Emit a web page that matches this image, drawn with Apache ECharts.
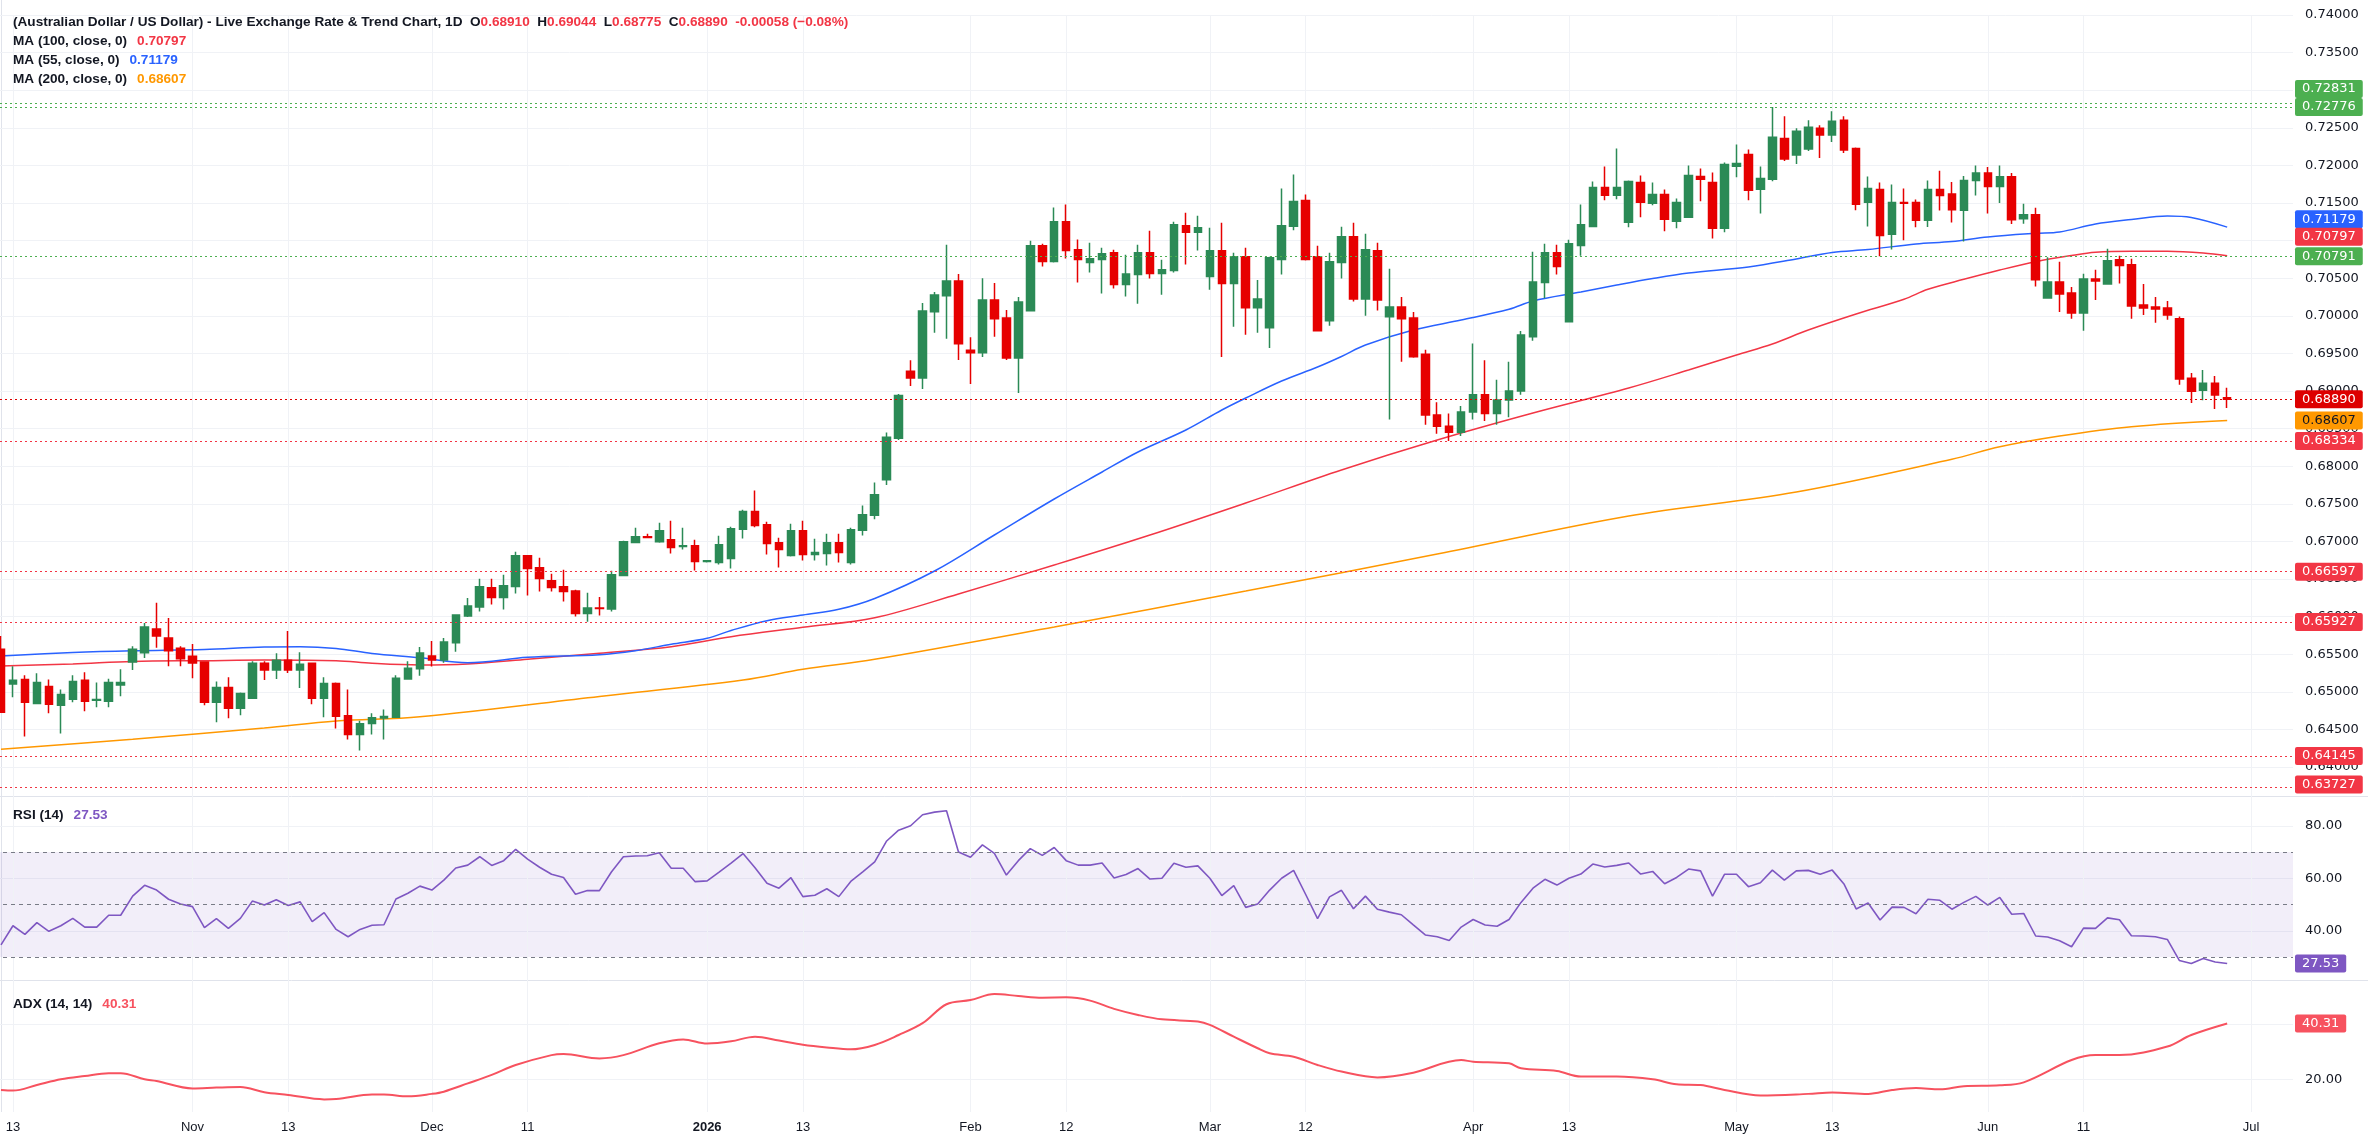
<!DOCTYPE html>
<html>
<head>
<meta charset="utf-8">
<title>AUD/USD</title>
<script src="https://cdn.jsdelivr.net/npm/echarts@6/dist/echarts.min.js"></script>
<style>
  html, body { margin: 0; padding: 0; background: #ffffff; overflow: hidden; }
  /* the plot starts half a candle left of the window edge, so the canvas is shifted 5px left */
  #chart { width: 2373px; height: 1137px; margin-left: -5px; }
</style>
</head>
<body>
<div id="chart"></div>
<script>
// ---- data ----
// weekday categories, Oct 10 2025 .. Jul 6 2026 (last candle is Jun 29)
var dates = [];
(function () {
  var t = Date.UTC(2025, 9, 10);
  while (dates.length < 192) {
    var d = new Date(t);
    if (d.getUTCDay() !== 0 && d.getUTCDay() !== 6) dates.push(d.toISOString().slice(0, 10));
    t += 86400000;
  }
})();

var tickDates = ['2025-10-13', '2025-11-03', '2025-11-13', '2025-12-01', '2025-12-11', '2026-01-01',
  '2026-01-13', '2026-02-02', '2026-02-12', '2026-03-02', '2026-03-12', '2026-04-01', '2026-04-13',
  '2026-05-01', '2026-05-13', '2026-06-01', '2026-06-11', '2026-07-01'];
var tickTexts = ['13', 'Nov', '13', 'Dec', '11', '2026', '13', 'Feb', '12', 'Mar', '12', 'Apr', '13',
  'May', '13', 'Jun', '11', 'Jul'];

var opens = [
  0.65567, 0.65103, 0.65165, 0.64844, 0.65071, 0.64821, 0.64902, 0.65152, 0.64888, 0.64875, 0.65089, 0.65397,
  0.65518, 0.65835, 0.65714, 0.6558, 0.65473, 0.65397, 0.64862, 0.65058, 0.64781, 0.64915, 0.65379, 0.6529,
  0.6542, 0.6529, 0.65379, 0.64915, 0.65112, 0.64683, 0.64433, 0.6458, 0.64652, 0.64661, 0.6517,
  0.65307, 0.65476, 0.65422, 0.65653, 0.66009, 0.66129, 0.66382, 0.66253, 0.664, 0.66809, 0.66649, 0.66476,
  0.66396, 0.66342, 0.6604, 0.66116, 0.66102, 0.66547, 0.66987, 0.67062, 0.66996, 0.67022, 0.66933, 0.66942,
  0.66733, 0.6672, 0.66773, 0.6716, 0.67396, 0.67222, 0.66982, 0.66813, 0.67142, 0.66827, 0.6684, 0.66982,
  0.6672, 0.67147, 0.67347,
  0.6782, 0.68371, 0.69262, 0.69173, 0.70054, 0.70268, 0.70464, 0.69542, 0.69507, 0.7021, 0.6997, 0.6944,
  0.70068, 0.70931, 0.70722, 0.71252, 0.70878, 0.70709, 0.70749, 0.70838, 0.70415, 0.70549, 0.70838, 0.70562,
  0.70602, 0.71199, 0.7111, 0.70522, 0.70865, 0.70428, 0.70784, 0.70108, 0.69841, 0.70749, 0.7119, 0.71532,
  0.70784, 0.69934, 0.70709,
  0.71052, 0.70224, 0.70865, 0.69988, 0.70117, 0.6997, 0.6949, 0.6868, 0.6853, 0.6845, 0.6872, 0.6895,
  0.687, 0.6888, 0.69, 0.69722, 0.70442, 0.70838, 0.69922, 0.70936, 0.71189, 0.71705, 0.71603, 0.71243,
  0.71772, 0.71496, 0.71612, 0.71256, 0.7131, 0.71852, 0.71772, 0.71163, 0.7199, 0.72146, 0.71683, 0.71817,
  0.72359, 0.72137, 0.72217, 0.72493, 0.72404, 0.726, 0.72226, 0.7151, 0.71679, 0.71083, 0.71505, 0.71505,
  0.7127, 0.7168, 0.7162, 0.71402, 0.718, 0.719, 0.7172, 0.7185, 0.71291, 0.71344, 0.70238, 0.70451,
  0.70304, 0.70038, 0.70491, 0.70424, 0.70744, 0.70678, 0.70144, 0.70118, 0.70104, 0.69962, 0.69171, 0.69011,
  0.69104, 0.6891
];
var highs = [
  0.65741, 0.65339, 0.65219, 0.65246, 0.65165, 0.65031, 0.65219, 0.65259, 0.65125, 0.65174, 0.65299, 0.65607,
  0.65915, 0.66183, 0.65982, 0.65607, 0.65634, 0.65406, 0.65138, 0.65192, 0.64991, 0.65406, 0.65406, 0.65513,
  0.65808, 0.65527, 0.65385, 0.65192, 0.65125, 0.65031, 0.64616, 0.64714, 0.64763, 0.65219, 0.65406,
  0.65596, 0.65676, 0.65716, 0.6603, 0.66249, 0.66502, 0.66502, 0.66556, 0.66862, 0.66815, 0.66782, 0.66569,
  0.66622, 0.66356, 0.66316, 0.66262, 0.66609, 0.67009, 0.67182, 0.67102, 0.67249, 0.67276, 0.67182, 0.67022,
  0.66751, 0.67076, 0.67196, 0.67422, 0.67676, 0.67262, 0.67049, 0.67236, 0.67276, 0.67036, 0.67102, 0.67102,
  0.67182, 0.67476, 0.67782,
  0.68447, 0.68959, 0.69409, 0.7017, 0.70317, 0.70945, 0.70557, 0.69716, 0.705, 0.70437, 0.70077, 0.7025,
  0.70998, 0.70958, 0.71439, 0.71479, 0.71015, 0.70972, 0.70905, 0.70878, 0.70811, 0.70945, 0.71132, 0.70744,
  0.71252, 0.71372, 0.71332, 0.71172, 0.71239, 0.70838, 0.70905, 0.70477, 0.70784, 0.71693, 0.7188, 0.71613,
  0.70931, 0.70838, 0.71185,
  0.71238, 0.71092, 0.70972, 0.70625, 0.70251, 0.70051, 0.6955, 0.6885, 0.687, 0.688, 0.69633, 0.6941,
  0.6915, 0.69388, 0.69797, 0.70851, 0.70958, 0.70945, 0.71012, 0.71479, 0.71786, 0.71986, 0.72226, 0.71799,
  0.71866, 0.71772, 0.71679, 0.71559, 0.71999, 0.71959, 0.71906, 0.72039, 0.72279, 0.72213, 0.71986, 0.72776,
  0.72653, 0.72493, 0.726, 0.72533, 0.7272, 0.72653, 0.72239, 0.71852, 0.71772, 0.71746, 0.71692, 0.71545,
  0.718, 0.7193, 0.7178, 0.7186, 0.72, 0.7198, 0.72, 0.719, 0.71491, 0.71438, 0.7078, 0.70718,
  0.70384, 0.70558, 0.70611, 0.70891, 0.70798, 0.70758, 0.70424, 0.70251, 0.70198, 0.69991, 0.69238, 0.69278,
  0.69198, 0.69044
];
var lows = [
  0.6472, 0.64929, 0.64406, 0.64835, 0.64714, 0.64446, 0.64862, 0.64741, 0.64795, 0.64795, 0.64942, 0.6529,
  0.65451, 0.65585, 0.65339, 0.65339, 0.65179, 0.64821, 0.64594, 0.64647, 0.64687, 0.64915, 0.65156, 0.6517,
  0.6525, 0.65049, 0.64835, 0.64661, 0.64513, 0.64366, 0.64219, 0.64433, 0.64366, 0.64655, 0.65165,
  0.65213, 0.65338, 0.65387, 0.65533, 0.65996, 0.66067, 0.6616, 0.66093, 0.66307, 0.6628, 0.66333, 0.66333,
  0.662, 0.66, 0.65933, 0.66013, 0.66067, 0.6654, 0.6698, 0.67049, 0.66982, 0.6684, 0.66893, 0.66613,
  0.6672, 0.66693, 0.6664, 0.6704, 0.67187, 0.66827, 0.66653, 0.668, 0.66747, 0.66747, 0.6668, 0.6672,
  0.66693, 0.6708, 0.67293,
  0.6775, 0.68349, 0.69066, 0.69026, 0.69774, 0.69694, 0.69413, 0.69093, 0.69453, 0.6972, 0.69413, 0.68972,
  0.7006, 0.70655, 0.70709, 0.70762, 0.70442, 0.70575, 0.70295, 0.70362, 0.70255, 0.70161, 0.70495, 0.70281,
  0.70575, 0.70682, 0.70869, 0.70348, 0.69453, 0.69854, 0.69747, 0.69774, 0.69573, 0.70548, 0.71136, 0.70735,
  0.6979, 0.69867, 0.70495,
  0.70189, 0.70002, 0.70069, 0.6862, 0.69388, 0.69441, 0.6855, 0.6843, 0.68334, 0.684, 0.6862, 0.686,
  0.6855, 0.6865, 0.6895, 0.69668, 0.70233, 0.70549, 0.69915, 0.70798, 0.7118, 0.71536, 0.7155, 0.71176,
  0.7131, 0.7147, 0.71123, 0.71163, 0.71305, 0.71523, 0.71029, 0.7111, 0.71843, 0.71536, 0.7136, 0.7179,
  0.72057, 0.72017, 0.7219, 0.72097, 0.72311, 0.72164, 0.71403, 0.71189, 0.70791, 0.70883, 0.71003, 0.71176,
  0.7118, 0.714, 0.71242, 0.70989, 0.716, 0.71362, 0.715, 0.7122, 0.71224, 0.70389, 0.7023, 0.70051,
  0.69962, 0.69802, 0.70211, 0.70418, 0.70429, 0.69962, 0.70011, 0.69909, 0.69949, 0.69082, 0.68842, 0.68878,
  0.68762, 0.68775
];
var closes = [
  0.64728, 0.65152, 0.64862, 0.65125, 0.64835, 0.64964, 0.65138, 0.64875, 0.64897, 0.65125, 0.65125, 0.65567,
  0.65862, 0.65741, 0.65545, 0.65438, 0.65384, 0.64862, 0.65058, 0.64781, 0.64978, 0.65379, 0.6529, 0.6542,
  0.6529, 0.65366, 0.64915, 0.65112, 0.64674, 0.64433, 0.64576, 0.64656, 0.6467, 0.65179, 0.65312,
  0.65516, 0.65422, 0.65662, 0.66022, 0.66142, 0.66396, 0.66253, 0.66409, 0.66809, 0.6664, 0.66507, 0.66387,
  0.66333, 0.6604, 0.66116, 0.66107, 0.66556, 0.66996, 0.67062, 0.67053, 0.67142, 0.6692, 0.66942, 0.66733,
  0.66742, 0.66956, 0.67169, 0.67396, 0.67213, 0.66973, 0.66893, 0.67142, 0.66827, 0.66853, 0.66982, 0.66853,
  0.67156, 0.67356, 0.67622,
  0.68385, 0.68941, 0.69173, 0.70063, 0.70277, 0.70464, 0.69627, 0.69507, 0.7021, 0.69961, 0.6944, 0.70183,
  0.70931, 0.70722, 0.71252, 0.70869, 0.70749, 0.70758, 0.70825, 0.70415, 0.70557, 0.70838, 0.70562, 0.70611,
  0.71212, 0.7111, 0.71172, 0.70865, 0.70428, 0.70784, 0.70108, 0.70224, 0.70771, 0.71199, 0.71519, 0.70749,
  0.698, 0.70718, 0.71052,
  0.70224, 0.70878, 0.70211, 0.70117, 0.69962, 0.69455, 0.6868, 0.6853, 0.6845, 0.6872, 0.6895, 0.687,
  0.6888, 0.69, 0.69744, 0.70451, 0.70838, 0.70656, 0.70958, 0.71212, 0.71705, 0.71603, 0.71705, 0.71786,
  0.7151, 0.71612, 0.71283, 0.71505, 0.71866, 0.71817, 0.71163, 0.72012, 0.72026, 0.7167, 0.71826, 0.72373,
  0.72084, 0.72453, 0.72506, 0.72404, 0.72586, 0.72204, 0.71483, 0.71692, 0.71069, 0.71505, 0.71496, 0.7127,
  0.7168, 0.716, 0.71411, 0.718, 0.719, 0.7172, 0.7185, 0.71278, 0.71344, 0.70478, 0.70451, 0.70291,
  0.70038, 0.70491, 0.70464, 0.70731, 0.70669, 0.70131, 0.70104, 0.70091, 0.70011, 0.69158, 0.68998, 0.69104,
  0.68948, 0.6889
];

// moving averages, read as [candle index, value]
var ma55Pts = [[0, 0.65476], [6, 0.65523], [11, 0.65547], [17, 0.65563], [22, 0.65596], [25, 0.656], [28, 0.65576],
  [31, 0.6551], [35, 0.65453], [39, 0.65387], [44, 0.65458], [50, 0.65493], [53, 0.65547], [56, 0.65632],
  [59, 0.65711], [61, 0.65815], [64, 0.65946], [67, 0.66021], [70, 0.66097], [73, 0.66241], [78, 0.66606],
  [83, 0.67085], [88, 0.67564], [92, 0.67923], [95, 0.68189], [99, 0.68481], [102, 0.68747], [104, 0.68907],
  [107, 0.69133], [110, 0.69319], [112, 0.69459], [114, 0.69612], [118, 0.69811], [122, 0.69944], [126, 0.70086],
  [128, 0.70197], [132, 0.70316], [135, 0.70409], [138, 0.70496], [141, 0.70569], [146, 0.70649], [150, 0.70755],
  [153, 0.70842], [156, 0.70881], [160, 0.70955], [163, 0.70988], [166, 0.71048], [170, 0.71097], [172, 0.71114],
  [175, 0.71221], [178, 0.71281], [181, 0.71327], [183, 0.71307], [186, 0.71179]];
var ma100Pts = [[0, 0.65343], [6, 0.6537], [11, 0.65403], [17, 0.65414], [22, 0.65423], [28, 0.65414], [31, 0.65379],
  [35, 0.65356], [39, 0.6537], [44, 0.65432], [50, 0.65512], [56, 0.656], [61, 0.65733], [67, 0.65858],
  [73, 0.65985], [80, 0.66301], [88, 0.66686], [96, 0.67085], [104, 0.67511], [112, 0.6795], [120, 0.68348],
  [128, 0.68707], [136, 0.6904], [141, 0.69279], [145, 0.69479], [148, 0.69625], [151, 0.69811], [155, 0.70024],
  [159, 0.7022], [161, 0.70352], [164, 0.70485], [167, 0.70609], [170, 0.7072], [173, 0.70802], [175, 0.70844],
  [178, 0.70858], [181, 0.70858], [184, 0.70835], [186, 0.70797]];
var ma200Pts = [[0, 0.64235], [11, 0.64368], [22, 0.64519], [28, 0.64612], [35, 0.64669], [50, 0.64939],
  [62, 0.65157], [67, 0.65299], [73, 0.65432], [88, 0.65862], [104, 0.6634], [120, 0.66832], [136, 0.67338],
  [150, 0.67657], [163, 0.68092], [167, 0.68259], [172, 0.68402], [178, 0.68525], [186, 0.68607]];

var rsi = [
  34.6, 41.9, 38.6, 43.1, 39.8, 41.9, 44.7, 41.4, 41.4, 45.9, 45.9, 53.2, 57.3, 55.5, 52.0, 50.2, 49.2, 41.2,
  44.6, 40.9, 44.7, 51.3, 49.8, 51.8, 49.6, 51.0, 43.5, 46.9, 40.5, 37.7, 40.5, 42.1, 42.3, 52.1, 54.3, 57.0,
  55.5, 59.3, 63.9, 65.0, 68.2, 64.9, 66.7, 71.0, 67.3, 64.2, 61.5, 60.3, 53.9, 55.3, 55.3, 62.4, 68.2, 68.5,
  68.6, 69.7, 63.8, 63.8, 58.7, 59.0, 62.3, 65.8, 69.4, 64.0, 58.1, 56.2, 60.2, 53.0, 53.5, 56.0, 53.0, 58.8,
  62.4, 66.2, 74.2, 78.3, 80.0, 84.2, 85.2, 85.7, 70.0, 68.0, 72.7, 69.5, 61.2, 66.7, 71.3, 68.7, 71.7, 66.7,
  65.0, 65.0, 65.8, 60.1, 61.4, 63.7, 59.7, 60.0, 65.7, 64.2, 64.7,
  60.0, 53.4, 57.2, 48.9, 50.2, 55.5, 60.0, 63.0, 53.9, 44.6, 52.9, 55.4, 48.4, 53.2, 48.2, 47.1, 46.1, 42.2,
  38.4, 37.7, 36.3, 41.4, 44.3, 42.2, 41.7, 44.3, 50.8, 56.2, 59.6, 57.4, 60.0, 61.6, 65.4, 64.3, 64.9, 65.8,
  61.6, 62.6, 57.9, 60.3, 63.5, 62.8, 53.2, 61.5, 61.5, 56.8, 58.3, 63.1, 59.3, 62.8, 63.0, 61.5, 63.1, 57.7,
  48.3, 50.6, 44.1, 49.0, 48.9, 46.5, 52.0, 51.6, 48.2, 50.8, 53.1, 49.8, 52.7, 46.3, 46.6, 38.0, 37.6, 36.2,
  33.9, 41.0, 40.9, 44.9, 44.2, 38.1, 38.0, 37.7, 36.7, 28.7, 27.5, 29.4, 28.1, 27.53
];

var adxPts = [[0, 16.1], [1, 15.9], [3, 17.9], [5, 20.0], [7, 21.2], [9, 22.2], [10, 22.2], [12, 20.0], [13, 19.4],
  [16, 16.7], [18, 17.0], [20, 17.2], [22, 15.3], [24, 14.3], [27, 12.7], [28, 12.8], [31, 14.5], [32, 14.5],
  [34, 13.8], [36, 14.7], [37, 15.5], [39, 18.5], [41, 21.6], [43, 25.2], [46, 28.8], [47, 29.2], [50, 27.6],
  [52, 28.8], [55, 33.1], [57, 34.5], [59, 33.0], [61, 33.8], [63, 35.5], [65, 34.1], [67, 32.6], [69, 31.6],
  [71, 30.9], [73, 32.5], [75, 36.1], [77, 40.4], [79, 47.3], [81, 48.8], [83, 51.0], [85, 50.3], [87, 49.7],
  [89, 49.8], [91, 48.6], [93, 45.6], [95, 43.4], [97, 41.8], [100, 41.0], [101, 39.8], [103, 35.5], [105, 31.3],
  [106, 29.5], [108, 28.2], [110, 25.2], [112, 22.8], [115, 20.7], [118, 22.4], [122, 27.0], [123, 26.4],
  [126, 25.8], [127, 24.0], [130, 23.0], [132, 21.0], [135, 21.0], [138, 20.0], [140, 18.2], [142, 17.9],
  [144, 16.1], [147, 14.1], [151, 14.7], [153, 15.2], [156, 14.7], [158, 16.1], [160, 16.8], [162, 16.4],
  [164, 17.5], [167, 17.8], [169, 18.9], [173, 27.0], [175, 28.8], [177, 28.8], [181, 31.9], [183, 36.1],
  [186, 40.31]];

// horizontal levels drawn as dotted lines with a price tag
var levelPrices = [0.72831, 0.72776, 0.70791, 0.68334, 0.66597, 0.65927, 0.64145, 0.63727];

// ---- styling ----
var UP = '#2b8a56', DOWN = '#e60000';
var C55 = '#2962ff', C100 = '#f23645', C200 = '#ff9800', RSI_C = '#7e57c2', ADX_C = '#f7525f';
var TXT = '#131722', GRID = '#f0f2f6', NONE = 'rgba(0,0,0,0)';
var levelColors = ['#4caf50', '#4caf50', '#4caf50', '#f23645', '#f23645', '#f23645', '#f23645', '#f23645'];
var levelShift = [-14, 0, 0, 0, 0, 0, 0, -3];
var AXIS_FONT = 'DejaVu Sans', TEXT_FONT = 'Liberation Sans';
var SHIFT = 5; // canvas offset, see css

var last = closes.length - 1;
var toPairs = function (pts) { return pts.map(function (p) { return [dates[p[0]], p[1]]; }); };
var lastOf = function (pts) { return pts[pts.length - 1][1]; };
var candles = opens.map(function (o, i) { return [o, closes[i], lows[i], highs[i]]; });

var tickMap = {};
tickDates.forEach(function (d, k) { tickMap[d] = tickTexts[k]; });

function tag(value, color, dy, withLine, textColor, digits) {
  return {
    yAxis: value,
    lineStyle: withLine ? { color: color, type: [2, 3], width: 1 } : { color: NONE, width: 1 },
    label: {
      backgroundColor: color, color: textColor || '#ffffff', offset: [0, dy],
      formatter: function () { return value.toFixed(digits || 5); }
    }
  };
}
var tagLabel = {
  show: true, position: 'end', distance: 2, fontFamily: AXIS_FONT, fontSize: 13,
  padding: [3, 7, 2, 7], borderRadius: 2
};

var chg = closes[last] - closes[last - 1];
var pct = chg / closes[last - 1] * 100;
var sign = function (v, d) { return (v < 0 ? '-' : '+') + Math.abs(v).toFixed(d); };
var header =
  '{k|(Australian Dollar / US Dollar) - Live Exchange Rate & Trend Chart, 1D  O}{r|' + opens[last].toFixed(5) +
  '}{k|  H}{r|' + highs[last].toFixed(5) + '}{k|  L}{r|' + lows[last].toFixed(5) +
  '}{k|  C}{r|' + closes[last].toFixed(5) + '}{r|  ' + sign(chg, 5) + ' (' + sign(pct, 2).replace('-', '\u2212') + '%)}\n' +
  '{k|MA (100, close, 0)}  {r|' + lastOf(ma100Pts).toFixed(5) + '}\n' +
  '{k|MA (55, close, 0)}  {b|' + lastOf(ma55Pts).toFixed(5) + '}\n' +
  '{k|MA (200, close, 0)}  {o|' + lastOf(ma200Pts).toFixed(5) + '}';

var FS = 13.6;
var rich = {
  k: { color: TXT, fontFamily: TEXT_FONT, fontSize: FS, lineHeight: 19 },
  r: { color: '#f23645', fontFamily: TEXT_FONT, fontSize: FS, lineHeight: 19 },
  b: { color: C55, fontFamily: TEXT_FONT, fontSize: FS, lineHeight: 19 },
  o: { color: C200, fontFamily: TEXT_FONT, fontSize: FS, lineHeight: 19 },
  p: { color: RSI_C, fontFamily: TEXT_FONT, fontSize: FS, lineHeight: 19 },
  a: { color: ADX_C, fontFamily: TEXT_FONT, fontSize: FS, lineHeight: 19 }
};

function splitColors(n, hideLast) {
  var c = [];
  for (var k = 0; k < n; k++) c.push(k === 0 || (hideLast && k === n - 1) ? NONE : GRID);
  return c;
}
function xAxisFor(gi, show) {
  return {
    type: 'category', gridIndex: gi, data: dates, boundaryGap: true,
    axisLine: { show: false }, axisTick: { show: false }, splitLine: { show: false },
    offset: show ? -22 : 0,
    axisLabel: show ? {
      show: true, margin: 9, color: TXT, fontFamily: TEXT_FONT, fontSize: 13,
      interval: function (idx, val) { return tickMap[val] !== undefined; },
      formatter: function (val) { var s = tickMap[val] || ''; return s === '2026' ? '{y|2026}' : s; },
      rich: { y: { fontWeight: 'bold', fontFamily: TEXT_FONT, fontSize: 13, color: TXT } }
    } : { show: false }
  };
}
function yAxisFor(gi, min, max, step, digits, showMax) {
  var n = Math.round((max - min) / step) + 1;
  return {
    type: 'value', gridIndex: gi, position: 'right', min: min, max: max, interval: step,
    axisLine: { show: false }, axisTick: { show: false },
    axisLabel: {
      margin: 12, color: TXT, fontFamily: AXIS_FONT, fontSize: 13, showMinLabel: false, showMaxLabel: showMax,
      formatter: function (v) { return v.toFixed(digits); }
    },
    splitLine: { show: true, lineStyle: { color: splitColors(n, !showMax), width: 1 } }
  };
}
// vertical grid lines through the labelled days, limited to the panel's value range
function gridLinesSeries(xi, yFrom, yTo) {
  return {
    type: 'line', xAxisIndex: xi, yAxisIndex: xi, data: [], z: 1, silent: true,
    markLine: {
      z: 1, silent: true, symbol: ['none', 'none'], label: { show: false },
      lineStyle: { color: GRID, type: 'solid', width: 1 },
      data: tickDates.map(function (d) { return [{ xAxis: d, yAxis: yFrom }, { xAxis: d, yAxis: yTo }]; })
    }
  };
}

var chart = echarts.init(document.getElementById('chart'), null, { renderer: 'canvas' });
chart.setOption({
  animation: false,
  backgroundColor: '#ffffff',
  title: [
    { left: 8 + SHIFT, top: 8, text: header, textStyle: { rich: rich, lineHeight: 19 } },
    { left: 8 + SHIFT, top: 801, text: '{k|RSI (14)}  {p|' + rsi[last].toFixed(2) + '}', textStyle: { rich: rich } },
    { left: 8 + SHIFT, top: 990, text: '{k|ADX (14, 14)}  {a|' + lastOf(adxPts).toFixed(2) + '}', textStyle: { rich: rich } }
  ],
  grid: [
    { left: 0, width: 2298, top: 15, height: 789.6 },
    { left: 0, width: 2298, top: 773.25, height: 210 },
    { left: 0, width: 2298, top: 969.3, height: 165 }
  ],
  xAxis: [xAxisFor(0, false), xAxisFor(1, false), xAxisFor(2, true)],
  yAxis: [
    yAxisFor(0, 0.635, 0.74, 0.005, 5, true),
    yAxisFor(1, 20, 100, 20, 2, false),
    yAxisFor(2, 0, 60, 20, 2, false)
  ],
  graphic: [
    { type: 'line', silent: true, shape: { x1: 0, y1: 796.5, x2: 2373, y2: 796.5 }, style: { stroke: '#e0e3eb', lineWidth: 1 } },
    { type: 'line', silent: true, shape: { x1: 0, y1: 980.5, x2: 2373, y2: 980.5 }, style: { stroke: '#e0e3eb', lineWidth: 1 } },
    { type: 'line', silent: true, shape: { x1: 1.5 + SHIFT, y1: 0, x2: 1.5 + SHIFT, y2: 1112 }, style: { stroke: '#e0e3eb', lineWidth: 1 } }
  ],
  series: [
    gridLinesSeries(0, 0.636, 0.74), gridLinesSeries(1, 21, 100), gridLinesSeries(2, 8.1, 60),
    {
      name: 'MA 200', type: 'line', xAxisIndex: 0, yAxisIndex: 0, data: toPairs(ma200Pts),
      showSymbol: false, smooth: 0.35, lineStyle: { color: C200, width: 1.5 }, z: 2
    },
    {
      name: 'MA 100', type: 'line', xAxisIndex: 0, yAxisIndex: 0, data: toPairs(ma100Pts),
      showSymbol: false, smooth: 0.35, lineStyle: { color: C100, width: 1.5 }, z: 2
    },
    {
      name: 'MA 55', type: 'line', xAxisIndex: 0, yAxisIndex: 0, data: toPairs(ma55Pts),
      showSymbol: false, smooth: 0.35, lineStyle: { color: C55, width: 1.5 }, z: 2
    },
    {
      name: 'AUD/USD', type: 'candlestick', xAxisIndex: 0, yAxisIndex: 0, data: candles, barWidth: 8, z: 3,
      itemStyle: { color: UP, color0: DOWN, borderColor: UP, borderColor0: DOWN, borderWidth: 1.5 },
      markLine: {
        silent: true, symbol: ['none', 'none'], precision: 5, label: tagLabel,
        data: levelPrices.map(function (v, k) { return tag(v, levelColors[k], levelShift[k], true); }).concat([
          tag(closes[last], '#dd0000', 0, true),
          tag(lastOf(ma55Pts), C55, -8, false),
          tag(lastOf(ma100Pts), C100, -19, false),
          tag(lastOf(ma200Pts), C200, 0, false, TXT)
        ])
      }
    },
    {
      name: 'RSI', type: 'line', xAxisIndex: 1, yAxisIndex: 1, data: rsi, showSymbol: false,
      lineStyle: { color: RSI_C, width: 1.6 }, z: 3,
      markArea: { silent: true, itemStyle: { color: 'rgba(126,87,194,0.1)' }, data: [[{ yAxis: 30 }, { yAxis: 70 }]] },
      markLine: {
        silent: true, symbol: ['none', 'none'], precision: 2, label: tagLabel,
        data: [
          { yAxis: 70, lineStyle: { color: '#787b86', type: [4, 4], width: 1 }, label: { show: false } },
          { yAxis: 50, lineStyle: { color: '#787b86', type: [4, 4], width: 1 }, label: { show: false } },
          { yAxis: 30, lineStyle: { color: '#787b86', type: [4, 4], width: 1 }, label: { show: false } },
          tag(rsi[last], RSI_C, 0, false, null, 2)
        ]
      }
    },
    {
      name: 'ADX', type: 'line', xAxisIndex: 2, yAxisIndex: 2, data: toPairs(adxPts), showSymbol: false,
      smooth: 0.35, lineStyle: { color: ADX_C, width: 2 }, z: 3,
      markLine: {
        silent: true, symbol: ['none', 'none'], precision: 2, label: tagLabel,
        data: [tag(lastOf(adxPts), ADX_C, 0, false, null, 2)]
      }
    }
  ]
});
</script>
</body>
</html>
